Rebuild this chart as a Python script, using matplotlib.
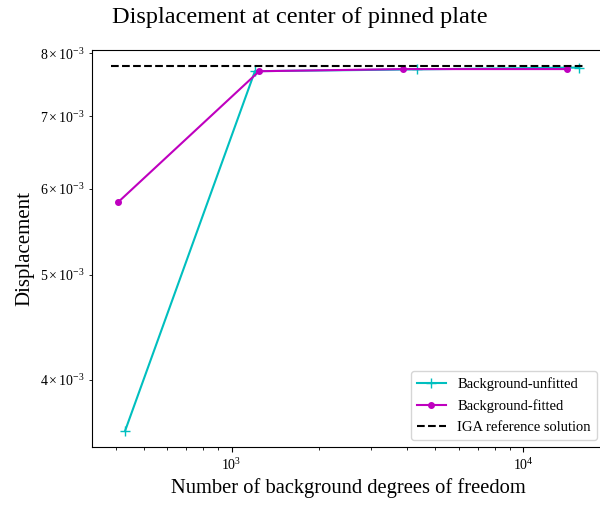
import numpy as np
import matplotlib
matplotlib.use("Agg")
import matplotlib.pyplot as plt

plt.rcParams['font.family'] = 'Liberation Serif'
plt.rcParams['mathtext.fontset'] = 'stix'

# data
dof_unfitted = [431, 1202, 4330, 15560]
disp_unfitted = [3.586e-3, 7.70e-3, 7.73e-3, 7.76e-3]

dof_fitted = [408, 1243, 3878, 14157]
disp_fitted = [5.83e-3, 7.70e-3, 7.735e-3, 7.735e-3]

ref_dof = [385, 16200]
ref_disp = [7.79e-3, 7.79e-3]

fig = plt.figure(figsize=(6.0, 5.08), dpi=100)
# right edge of the axes sits just past the picture, as in the reference crop
ax = fig.add_axes([0.1533, 0.12, 0.8533, 0.7816])

ax.loglog(dof_unfitted, disp_unfitted, 'c-', marker='+', markersize=7, label="Background-unfitted")
ax.loglog(dof_fitted, disp_fitted, 'm-', marker='.', markersize=8, label="Background-fitted")
ax.loglog(ref_dof, ref_disp, 'k--', label="IGA reference solution")

ax.set_xlim(332, 18920)
ax.set_ylim(3.466e-3, 8.055e-3)

ax.set_xlabel("Number of background degrees of freedom", fontsize=14.8)
ax.set_ylabel("Displacement", fontsize=15)
fig.text(0.5, 0.966, "Displacement at center of pinned plate", fontsize=17.5,
         ha='center', va='center')
ax.tick_params(labelsize=10)
ax.legend(loc='lower right', fontsize=10.5, labelspacing=0.55)

fig.savefig("out.png", dpi=100)
